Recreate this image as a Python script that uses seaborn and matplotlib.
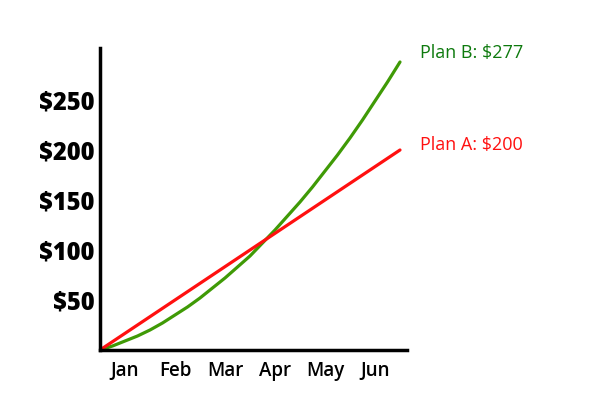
import pandas as pd
import matplotlib.pyplot as plt
import seaborn as sns

# months elapsed (0 = start of Jan, 6 = end of Jun)
months = [0, 0.25, 0.5, 0.75, 1, 1.25, 1.5, 1.75, 2, 2.25, 2.5, 2.75, 3,
          3.25, 3.5, 3.75, 4, 4.25, 4.5, 4.75, 5, 5.25, 5.5, 5.75, 6]
plan_b = [0, 4, 9, 14, 20, 27, 35, 43, 52, 62, 72, 83, 94,
          107, 120, 134, 148, 163, 179, 195, 212, 230, 249, 268, 288]
plan_a_months = [0, 6]
plan_a = [0, 200]
plan_a_label = 200
plan_b_label = 277

month_labels = ['Jan', 'Feb', 'Mar', 'Apr', 'May', 'Jun']
month_pos = [0.5, 1.5, 2.5, 3.5, 4.5, 5.5]
y_ticks = [50, 100, 150, 200, 250]

sns.set_style('white')
plt.rcParams['font.family'] = ['Open Sans', 'DejaVu Sans']

fig = plt.figure(figsize=(6, 4), dpi=100)
ax = fig.add_axes([100 / 600, 50 / 400, 307 / 600, 302 / 400])

df_b = pd.DataFrame({'month': months, 'value': plan_b})
df_a = pd.DataFrame({'month': plan_a_months, 'value': plan_a})
sns.lineplot(data=df_b, x='month', y='value', color='#3f9a06', linewidth=2.3, ax=ax)
sns.lineplot(data=df_a, x='month', y='value', color='#ff1010', linewidth=2.3, ax=ax)

ax.set_xlim(0, 6.14)
ax.set_ylim(0, 302)
ax.set_xticks(month_pos)
ax.set_xticklabels(month_labels, fontsize=13.5, fontweight='semibold', color='black')
ax.set_yticks(y_ticks)
ax.set_yticklabels([f'${v}' for v in y_ticks], fontsize=17, fontweight='heavy',
                   color='black')
ax.tick_params(axis='y', length=0, pad=4)
ax.tick_params(axis='x', length=0, pad=8)
ax.set_xlabel('')
ax.set_ylabel('')

for side in ['top', 'right']:
    ax.spines[side].set_visible(False)
for side in ['left', 'bottom']:
    ax.spines[side].set_linewidth(2.5)
    ax.spines[side].set_color('black')

ax.text(6.4, 297, f'Plan B: ${plan_b_label}', color='#0e7a0e', fontsize=13,
        va='center', ha='left', clip_on=False)
ax.text(6.4, 205, f'Plan A: ${plan_a_label}', color='#ff1010', fontsize=13,
        va='center', ha='left', clip_on=False)

fig.savefig('out.png', dpi=100)
